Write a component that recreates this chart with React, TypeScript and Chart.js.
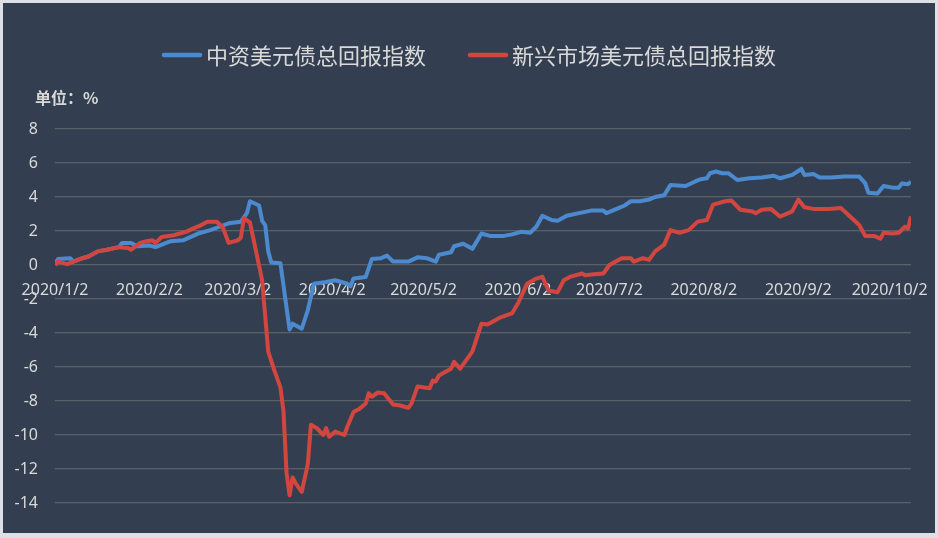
import React, { useEffect, useRef } from "react";
import { Chart, registerables } from "chart.js";

Chart.register(...registerables);

const seriesNames = ["中资美元债总回报指数", "新兴市场美元债总回报指数"];
const unitLabel = "单位：%";
const tickDates = ["2020/1/2", "2020/2/2", "2020/3/2", "2020/4/2", "2020/5/2", "2020/6/2", "2020/7/2", "2020/8/2", "2020/9/2", "2020/10/2"];
const yMin = -14;
const yMax = 8;
const yStep = 2;

const cnDates = [
  "2020/1/2", "2020/1/3", "2020/1/7", "2020/1/8", "2020/1/11", "2020/1/13", "2020/1/16", "2020/1/19", "2020/1/23", "2020/1/24",
  "2020/1/27", "2020/1/29", "2020/2/2", "2020/2/4", "2020/2/9", "2020/2/13", "2020/2/18", "2020/2/22", "2020/2/25", "2020/2/28",
  "2020/3/3", "2020/3/5", "2020/3/6", "2020/3/9", "2020/3/10", "2020/3/11", "2020/3/12", "2020/3/13", "2020/3/16", "2020/3/19",
  "2020/3/20", "2020/3/23", "2020/3/25", "2020/3/27", "2020/3/31", "2020/4/3", "2020/4/7", "2020/4/8", "2020/4/9", "2020/4/13",
  "2020/4/15", "2020/4/18", "2020/4/20", "2020/4/22", "2020/4/27", "2020/4/30", "2020/5/3", "2020/5/6", "2020/5/7", "2020/5/11",
  "2020/5/12", "2020/5/15", "2020/5/18", "2020/5/21", "2020/5/24", "2020/5/28", "2020/5/31", "2020/6/3", "2020/6/6", "2020/6/8",
  "2020/6/10", "2020/6/13", "2020/6/15", "2020/6/18", "2020/6/22", "2020/6/26", "2020/6/30", "2020/7/1", "2020/7/5", "2020/7/7",
  "2020/7/9", "2020/7/12", "2020/7/15", "2020/7/17", "2020/7/20", "2020/7/22", "2020/7/27", "2020/7/30", "2020/8/1", "2020/8/3",
  "2020/8/4", "2020/8/6", "2020/8/8", "2020/8/10", "2020/8/13", "2020/8/17", "2020/8/21", "2020/8/25", "2020/8/27", "2020/8/31",
  "2020/9/3", "2020/9/4", "2020/9/7", "2020/9/9", "2020/9/13", "2020/9/17", "2020/9/22", "2020/9/24", "2020/9/25", "2020/9/28",
  "2020/9/30", "2020/10/3", "2020/10/5", "2020/10/6", "2020/10/8", "2020/10/9",
];
const cnValues = [
  0.05, 0.35, 0.4, 0.2, 0.4, 0.5, 0.8, 0.9, 1.05, 1.3,
  1.3, 1.1, 1.15, 1.05, 1.4, 1.45, 1.85, 2.05, 2.25, 2.45,
  2.55, 3.05, 3.75, 3.5, 2.6, 2.35, 0.8, 0.15, 0.1, -3.8,
  -3.45, -3.75, -2.65, -1.1, -1.0, -0.9, -1.1, -1.25, -0.8, -0.7,
  0.35, 0.4, 0.55, 0.2, 0.2, 0.45, 0.4, 0.2, 0.6, 0.75,
  1.1, 1.25, 0.95, 1.85, 1.7, 1.7, 1.8, 1.95, 1.9, 2.25,
  2.9, 2.65, 2.6, 2.9, 3.05, 3.2, 3.2, 3.05, 3.35, 3.5,
  3.75, 3.75, 3.85, 4.0, 4.1, 4.7, 4.65, 4.9, 5.05, 5.1,
  5.4, 5.5, 5.4, 5.4, 5.0, 5.1, 5.15, 5.25, 5.1, 5.3,
  5.65, 5.3, 5.35, 5.15, 5.15, 5.2, 5.2, 4.8, 4.25, 4.2,
  4.65, 4.55, 4.55, 4.8, 4.75, 4.9,
];

const emDates = [
  "2020/1/2", "2020/1/3", "2020/1/6", "2020/1/8", "2020/1/11", "2020/1/13", "2020/1/16", "2020/1/19", "2020/1/23", "2020/1/26",
  "2020/1/27", "2020/1/30", "2020/2/1", "2020/2/3", "2020/2/4", "2020/2/6", "2020/2/10", "2020/2/12", "2020/2/14", "2020/2/17",
  "2020/2/19", "2020/2/21", "2020/2/24", "2020/2/26", "2020/2/28", "2020/3/2", "2020/3/3", "2020/3/4", "2020/3/6", "2020/3/10",
  "2020/3/12", "2020/3/14", "2020/3/16", "2020/3/17", "2020/3/18", "2020/3/19", "2020/3/20", "2020/3/21", "2020/3/23", "2020/3/25",
  "2020/3/26", "2020/3/28", "2020/3/30", "2020/3/31", "2020/4/1", "2020/4/3", "2020/4/6", "2020/4/7", "2020/4/9", "2020/4/11",
  "2020/4/13", "2020/4/14", "2020/4/15", "2020/4/17", "2020/4/19", "2020/4/22", "2020/4/24", "2020/4/27", "2020/4/28", "2020/4/30",
  "2020/5/4", "2020/5/5", "2020/5/6", "2020/5/7", "2020/5/11", "2020/5/12", "2020/5/14", "2020/5/16", "2020/5/18", "2020/5/21",
  "2020/5/23", "2020/5/27", "2020/5/31", "2020/6/2", "2020/6/5", "2020/6/8", "2020/6/10", "2020/6/12", "2020/6/15", "2020/6/17",
  "2020/6/19", "2020/6/23", "2020/6/24", "2020/6/27", "2020/6/30", "2020/7/2", "2020/7/6", "2020/7/9", "2020/7/10", "2020/7/13",
  "2020/7/15", "2020/7/17", "2020/7/20", "2020/7/22", "2020/7/25", "2020/7/28", "2020/7/31", "2020/8/3", "2020/8/5", "2020/8/9",
  "2020/8/11", "2020/8/14", "2020/8/18", "2020/8/19", "2020/8/21", "2020/8/24", "2020/8/27", "2020/8/31", "2020/9/2", "2020/9/4",
  "2020/9/7", "2020/9/12", "2020/9/16", "2020/9/19", "2020/9/22", "2020/9/24", "2020/9/27", "2020/9/29", "2020/9/30", "2020/10/3",
  "2020/10/5", "2020/10/7", "2020/10/8", "2020/10/9",
];
const emValues = [
  0.0, 0.2, 0.05, 0.2, 0.4, 0.5, 0.8, 0.9, 1.05, 1.0,
  0.9, 1.3, 1.4, 1.45, 1.3, 1.65, 1.75, 1.85, 1.95, 2.2,
  2.35, 2.55, 2.55, 2.25, 1.3, 1.45, 1.6, 2.75, 2.5, -0.9,
  -5.1, -6.2, -7.2, -8.6, -12.2, -13.55, -12.5, -12.85, -13.35, -11.7,
  -9.4, -9.6, -10.0, -9.6, -10.1, -9.8, -10.0, -9.5, -8.65, -8.45,
  -8.15, -7.55, -7.75, -7.5, -7.55, -8.2, -8.25, -8.4, -8.15, -7.15,
  -7.25, -6.8, -6.85, -6.5, -6.1, -5.7, -6.1, -5.6, -5.1, -3.45,
  -3.5, -3.1, -2.85, -2.25, -1.1, -0.8, -0.7, -1.5, -1.6, -0.9,
  -0.7, -0.5, -0.6, -0.55, -0.5, 0.0, 0.4, 0.4, 0.2, 0.4,
  0.3, 0.8, 1.2, 2.05, 1.9, 2.05, 2.55, 2.65, 3.55, 3.75,
  3.8, 3.25, 3.15, 3.05, 3.25, 3.3, 2.85, 3.15, 3.85, 3.4,
  3.3, 3.3, 3.35, 2.85, 2.35, 1.7, 1.7, 1.55, 1.9, 1.85,
  1.9, 2.25, 2.15, 2.85,
];

const DAY = 86400000;
function toTime(s: string): number {
  const [y, m, d] = s.split("/").map(Number);
  return Date.UTC(y, m - 1, d);
}
const t0 = toTime(tickDates[0]);
const dayOf = (s: string) => Math.round((toTime(s) - t0) / DAY);

const textColor = "#d9d9d9";
const gridColor = "#5b5f66";
const blue = "#4c8ad0";
const red = "#d3463f";

const legendPlugin = {
  id: "customLegend",
  afterDraw(chart: any) {
    const ctx = chart.ctx as CanvasRenderingContext2D;
    ctx.save();
    ctx.font = '22px "Noto Sans CJK SC", sans-serif';
    ctx.textBaseline = "middle";
    ctx.fillStyle = textColor;
    const w1 = ctx.measureText(seriesNames[0]).width;
    const w2 = ctx.measureText(seriesNames[1]).width;
    const lineW = 40;
    const gap = 4;
    const spacing = 42;
    const total = lineW + gap + w1 + spacing + lineW + gap + w2;
    let x = chart.width / 2 - total / 2;
    const y = 52;
    const items = [
      { c: blue, t: seriesNames[0], w: w1 },
      { c: red, t: seriesNames[1], w: w2 },
    ];
    items.forEach((it, i) => {
      ctx.strokeStyle = it.c;
      ctx.lineWidth = 4.5;
      ctx.lineCap = "round";
      ctx.beginPath();
      ctx.moveTo(x + 2, y);
      ctx.lineTo(x + lineW - 2, y);
      ctx.stroke();
      x += lineW + gap;
      ctx.fillStyle = textColor;
      ctx.fillText(it.t, x, y + 1);
      x += it.w + (i === 0 ? spacing : 0);
    });
    ctx.font = 'bold 16px "Noto Sans CJK SC", sans-serif';
    ctx.fillText(unitLabel, 32, 95);
    ctx.restore();
  },
};

export default function App() {
  const ref = useRef<HTMLCanvasElement | null>(null);
  useEffect(() => {
    document.body.style.margin = "0";
    const canvas = ref.current;
    if (!canvas) return;
    const tickDays = tickDates.map(dayOf);
    const xMax = dayOf(cnDates[cnDates.length - 1]);
    const chart = new Chart(canvas, {
      type: "line",
      data: {
        datasets: [
          {
            label: seriesNames[0],
            data: cnDates.map((d, i) => ({ x: dayOf(d), y: cnValues[i] })),
            borderColor: blue,
            backgroundColor: blue,
            borderWidth: 4,
            pointRadius: 0,
            tension: 0,
            borderJoinStyle: "round",
            order: 1,
          },
          {
            label: seriesNames[1],
            data: emDates.map((d, i) => ({ x: dayOf(d), y: emValues[i] })),
            borderColor: red,
            backgroundColor: red,
            borderWidth: 4,
            pointRadius: 0,
            tension: 0,
            borderJoinStyle: "round",
            order: 0,
          },
        ],
      },
      options: {
        responsive: false,
        animation: false,
        layout: { padding: { top: 126, bottom: 30, left: 0, right: 24 } },
        plugins: { legend: { display: false }, tooltip: { enabled: false } },
        scales: {
          x: {
            type: "linear",
            position: { y: 0 } as any,
            min: 0,
            max: xMax,
            grid: { display: false, drawTicks: false },
            border: { display: false },
            afterBuildTicks: (scale: any) => {
              scale.ticks = tickDays.map((v) => ({ value: v }));
            },
            afterFit: (scale: any) => {
              scale.paddingLeft = 0;
              scale.paddingRight = 0;
            },
            ticks: {
              autoSkip: false,
              maxRotation: 0,
              minRotation: 0,
              padding: 16,
              color: textColor,
              font: { family: '"Noto Sans", sans-serif', size: 16 },
              callback: (v: any) => {
                const i = tickDays.indexOf(Number(v));
                return i >= 0 ? tickDates[i] : "";
              },
            },
          },
          y: {
            type: "linear",
            min: yMin,
            max: yMax,
            afterFit: (scale: any) => {
              scale.width = 52;
            },
            grid: { color: gridColor, lineWidth: 1.2, drawTicks: false },
            border: { display: false },
            ticks: {
              stepSize: yStep,
              padding: 17,
              color: textColor,
              font: { family: '"Noto Sans", sans-serif', size: 16 },
            },
          },
        },
      },
      plugins: [legendPlugin],
    });
    return () => chart.destroy();
  }, []);
  return (
    <div
      style={{
        position: "fixed",
        left: 0,
        top: 0,
        width: 938,
        height: 538,
        background: "#dde1e6",
      }}
    >
      <canvas
        ref={ref}
        width={932}
        height={530}
        style={{ position: "absolute", left: 3, top: 3, width: 932, height: 530, background: "#333f50", display: "block" }}
      />
    </div>
  );
}
